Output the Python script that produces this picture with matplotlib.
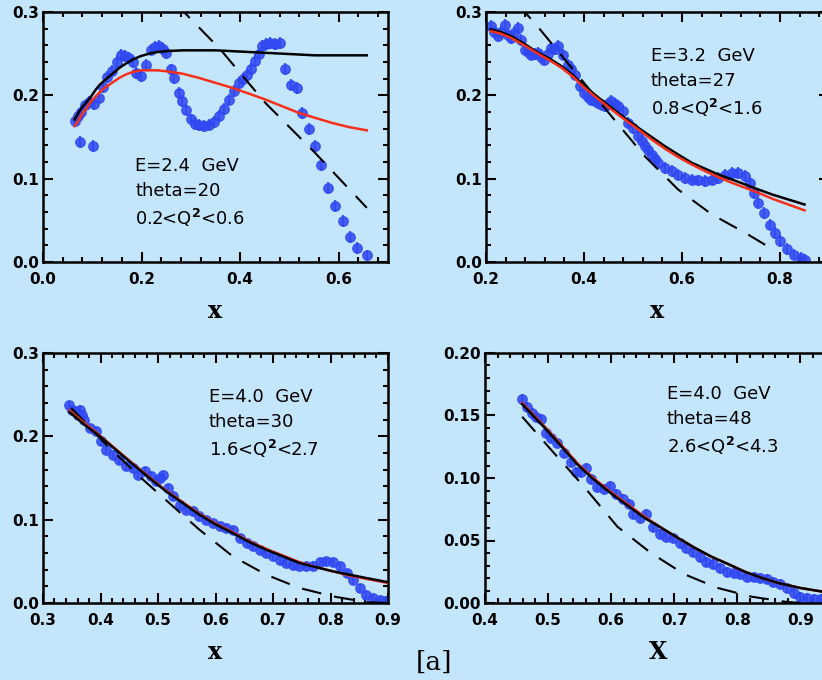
import matplotlib
matplotlib.use("Agg")
import matplotlib.pyplot as plt
from matplotlib.ticker import MultipleLocator, FormatStrFormatter

BG = "#C4E6FC"
BLUE = "#2F48F2"
RED = "#F5301A"

# ---------------- Panel 1: E=2.4 GeV, theta=20 ----------------
p1_x = [0.064, 0.076, 0.101, 0.070, 0.078, 0.086, 0.094, 0.104, 0.114, 0.122, 0.130, 0.141, 0.150,
        0.158, 0.166, 0.175, 0.182, 0.189, 0.199, 0.209, 0.219, 0.228, 0.236, 0.243, 0.249,
        0.259, 0.265, 0.276, 0.283, 0.290, 0.300, 0.308, 0.316, 0.326, 0.337, 0.347, 0.357,
        0.367, 0.377, 0.387, 0.397, 0.405, 0.414, 0.422, 0.431, 0.438, 0.444, 0.452, 0.461,
        0.471, 0.481, 0.490, 0.503, 0.515, 0.525, 0.539, 0.552, 0.564, 0.579, 0.593, 0.608,
        0.623, 0.638, 0.657]
p1_y = [0.169, 0.144, 0.139, 0.175, 0.180, 0.188, 0.192, 0.190, 0.197, 0.210, 0.222, 0.229, 0.240,
        0.249, 0.247, 0.245, 0.240, 0.227, 0.223, 0.237, 0.255, 0.258, 0.259, 0.256, 0.251,
        0.231, 0.221, 0.203, 0.193, 0.183, 0.171, 0.166, 0.164, 0.163, 0.165, 0.168, 0.175,
        0.184, 0.195, 0.205, 0.215, 0.220, 0.225, 0.232, 0.241, 0.250, 0.259, 0.262, 0.263,
        0.262, 0.263, 0.232, 0.213, 0.209, 0.179, 0.160, 0.139, 0.116, 0.089, 0.067, 0.049,
        0.030, 0.017, 0.008]
p1_err = 0.007
p1_cx = [0.064, 0.073, 0.081, 0.090, 0.098, 0.106, 0.114, 0.125, 0.135, 0.145, 0.155, 0.168, 0.182,
         0.198, 0.215, 0.232, 0.249, 0.283, 0.316, 0.350, 0.384, 0.418, 0.451, 0.485, 0.519, 0.552,
         0.586, 0.620, 0.657]
p1_black = [0.171, 0.180, 0.187, 0.193, 0.199, 0.206, 0.212, 0.218, 0.223, 0.228, 0.233, 0.238, 0.243,
            0.247, 0.250, 0.252, 0.253, 0.254, 0.254, 0.254, 0.253, 0.252, 0.251, 0.250, 0.249, 0.248,
            0.248, 0.248, 0.248]
p1_red = [0.163, 0.171, 0.179, 0.186, 0.193, 0.198, 0.203, 0.209, 0.213, 0.217, 0.221, 0.225, 0.228,
          0.230, 0.230, 0.230, 0.229, 0.226, 0.221, 0.215, 0.209, 0.202, 0.195, 0.187, 0.179, 0.173,
          0.167, 0.162, 0.158]
p1_dx = [0.270, 0.286, 0.360, 0.451, 0.552, 0.657]
p1_dash = [0.310, 0.300, 0.255, 0.191, 0.131, 0.065]

# ---------------- Panel 2: E=3.2 GeV, theta=27 ----------------
p2_x = [0.210, 0.217, 0.224, 0.231, 0.238, 0.245, 0.251, 0.258, 0.265, 0.272, 0.279, 0.286, 0.292,
        0.299, 0.306, 0.313, 0.319, 0.326, 0.333, 0.340, 0.347, 0.357, 0.367, 0.374, 0.381,
        0.391, 0.401, 0.408, 0.415, 0.422, 0.429, 0.436, 0.442, 0.449, 0.456, 0.463, 0.470,
        0.480, 0.490, 0.500, 0.511, 0.518, 0.524, 0.531, 0.538, 0.545, 0.552, 0.565, 0.579,
        0.592, 0.606, 0.620, 0.633, 0.647, 0.661, 0.674, 0.688, 0.702, 0.715, 0.729, 0.739,
        0.746, 0.756, 0.767, 0.780, 0.790, 0.801, 0.814, 0.828, 0.842, 0.852]
p2_y = [0.283, 0.276, 0.271, 0.276, 0.285, 0.272, 0.269, 0.275, 0.281, 0.266, 0.255, 0.252, 0.249,
        0.250, 0.251, 0.246, 0.243, 0.250, 0.257, 0.256, 0.259, 0.249, 0.237, 0.231, 0.225,
        0.211, 0.203, 0.198, 0.195, 0.193, 0.191, 0.189, 0.187, 0.190, 0.193, 0.190, 0.187,
        0.181, 0.167, 0.161, 0.151, 0.145, 0.139, 0.134, 0.129, 0.124, 0.119, 0.113, 0.109,
        0.105, 0.101, 0.099, 0.098, 0.097, 0.099, 0.101, 0.105, 0.107, 0.107, 0.103, 0.095,
        0.083, 0.071, 0.059, 0.045, 0.035, 0.025, 0.016, 0.009, 0.005, 0.003]
p2_err = 0.007
p2_cx = [0.210, 0.230, 0.251, 0.278, 0.306, 0.330, 0.354, 0.378, 0.401, 0.428, 0.456, 0.483, 0.511,
         0.538, 0.565, 0.592, 0.620, 0.647, 0.674, 0.702, 0.729, 0.756, 0.784, 0.817, 0.850]
p2_black = [0.279, 0.276, 0.271, 0.262, 0.251, 0.244, 0.235, 0.224, 0.211, 0.198, 0.185, 0.173, 0.161,
            0.150, 0.139, 0.129, 0.119, 0.112, 0.105, 0.099, 0.093, 0.087, 0.081, 0.075, 0.069]
p2_red = [0.277, 0.274, 0.269, 0.260, 0.250, 0.242, 0.233, 0.222, 0.209, 0.196, 0.183, 0.171, 0.159,
          0.147, 0.136, 0.126, 0.117, 0.109, 0.102, 0.095, 0.089, 0.083, 0.076, 0.069, 0.062]
p2_dx = [0.265, 0.279, 0.302, 0.470, 0.524, 0.592, 0.661, 0.729, 0.780]
p2_dash = [0.310, 0.300, 0.285, 0.165, 0.127, 0.087, 0.057, 0.035, 0.017]

# ---------------- Panel 3: E=4.0 GeV, theta=30 ----------------
p3_x = [0.346, 0.350, 0.355, 0.360, 0.364, 0.368, 0.372, 0.381, 0.393, 0.401, 0.410, 0.422, 0.433,
        0.445, 0.457, 0.465, 0.477, 0.488, 0.497, 0.503, 0.509, 0.517, 0.526, 0.538, 0.549,
        0.561, 0.572, 0.584, 0.596, 0.607, 0.619, 0.630, 0.642, 0.654, 0.665, 0.677, 0.688,
        0.700, 0.712, 0.723, 0.735, 0.746, 0.758, 0.770, 0.781, 0.793, 0.804, 0.816, 0.828,
        0.839, 0.851, 0.862, 0.874, 0.886, 0.897]
p3_y = [0.238, 0.232, 0.230, 0.226, 0.232, 0.226, 0.220, 0.210, 0.206, 0.194, 0.184, 0.178, 0.172,
        0.164, 0.162, 0.154, 0.158, 0.152, 0.146, 0.150, 0.154, 0.138, 0.128, 0.118, 0.112,
        0.110, 0.104, 0.100, 0.096, 0.092, 0.090, 0.088, 0.078, 0.072, 0.068, 0.064, 0.060,
        0.056, 0.052, 0.048, 0.046, 0.045, 0.044, 0.045, 0.049, 0.050, 0.049, 0.044, 0.036,
        0.028, 0.018, 0.010, 0.006, 0.004, 0.003]
p3_err = 0.005
p3_cx = [0.346, 0.372, 0.399, 0.428, 0.457, 0.485, 0.514, 0.543, 0.572, 0.601, 0.630, 0.659, 0.688,
         0.717, 0.746, 0.775, 0.804, 0.833, 0.862, 0.900]
p3_black = [0.229, 0.214, 0.200, 0.183, 0.166, 0.150, 0.134, 0.120, 0.106, 0.094, 0.084, 0.073, 0.064,
            0.056, 0.048, 0.043, 0.038, 0.034, 0.030, 0.025]
p3_red = [0.231, 0.216, 0.201, 0.184, 0.167, 0.151, 0.135, 0.121, 0.107, 0.095, 0.085, 0.074, 0.065,
          0.057, 0.049, 0.043, 0.038, 0.033, 0.029, 0.024]
p3_dx = [0.349, 0.410, 0.474, 0.526, 0.572, 0.630, 0.688, 0.746, 0.804, 0.862, 0.900]
p3_dash = [0.234, 0.190, 0.148, 0.116, 0.088, 0.056, 0.034, 0.018, 0.008, 0.001, 0.000]

# ---------------- Panel 4: E=4.0 GeV, theta=48 ----------------
p4_x = [0.459, 0.466, 0.474, 0.481, 0.489, 0.496, 0.504, 0.514, 0.525, 0.536, 0.544, 0.552, 0.560,
        0.568, 0.578, 0.589, 0.598, 0.607, 0.618, 0.629, 0.634, 0.645, 0.655, 0.666, 0.677,
        0.687, 0.698, 0.709, 0.719, 0.730, 0.740, 0.751, 0.762, 0.772, 0.783, 0.794, 0.804,
        0.815, 0.826, 0.836, 0.847, 0.857, 0.868, 0.879, 0.889, 0.900, 0.911, 0.921, 0.932]
p4_y = [0.163, 0.157, 0.152, 0.149, 0.147, 0.136, 0.132, 0.128, 0.120, 0.113, 0.105, 0.105, 0.108,
        0.099, 0.093, 0.091, 0.094, 0.087, 0.083, 0.079, 0.071, 0.068, 0.071, 0.061, 0.055,
        0.053, 0.052, 0.048, 0.044, 0.041, 0.037, 0.033, 0.031, 0.028, 0.025, 0.024, 0.023,
        0.021, 0.021, 0.020, 0.019, 0.017, 0.015, 0.012, 0.008, 0.005, 0.004, 0.003, 0.003]
p4_err = 0.004
p4_cx = [0.459, 0.476, 0.493, 0.520, 0.546, 0.572, 0.599, 0.626, 0.653, 0.680, 0.706, 0.733, 0.759,
         0.786, 0.812, 0.839, 0.865, 0.900, 0.936]
p4_black = [0.159, 0.150, 0.141, 0.126, 0.111, 0.099, 0.088, 0.078, 0.068, 0.060, 0.052, 0.044, 0.037,
            0.031, 0.025, 0.020, 0.016, 0.012, 0.009]
p4_red = [0.160, 0.151, 0.142, 0.127, 0.112, 0.100, 0.089, 0.079, 0.069, 0.060, 0.052, 0.044, 0.037,
          0.031, 0.025, 0.020, 0.016, 0.012, 0.009]
p4_dx = [0.459, 0.504, 0.557, 0.610, 0.663, 0.716, 0.769, 0.823, 0.876, 0.900]
p4_dash = [0.149, 0.123, 0.093, 0.061, 0.040, 0.023, 0.012, 0.005, 0.001, 0.000]

labels = [
    ["E=2.4  GeV", "theta=20", r"0.2<Q$^{\mathbf{2}}$<0.6"],
    ["E=3.2  GeV", "theta=27", r"0.8<Q$^{\mathbf{2}}$<1.6"],
    ["E=4.0  GeV", "theta=30", r"1.6<Q$^{\mathbf{2}}$<2.7"],
    ["E=4.0  GeV", "theta=48", r"2.6<Q$^{\mathbf{2}}$<4.3"],
]

fig = plt.figure(figsize=(8.22, 6.80), dpi=100)
fig.patch.set_facecolor(BG)

W, H = 822.0, 680.0
def pos(l, t, r, b):
    return [l / W, 1 - b / H, (r - l) / W, (b - t) / H]

axes_specs = [
    dict(rect=pos(43, 12, 388, 262), xlim=(0, 0.7), ylim=(0, 0.3), xmaj=0.2, xmin=0.04, ymaj=0.1, ymin=0.02,
         xfmt="%.1f", yfmt="%.1f", xlabel="x", data=(p1_x, p1_y, p1_err), cx=p1_cx, black=p1_black, red=p1_red,
         dx=p1_dx, dash=p1_dash, txt=labels[0], tpos=(0.267, 0.42), black_top=False),
    dict(rect=pos(486, 12, 829, 262), xlim=(0.2, 0.9), ylim=(0, 0.3), xmaj=0.2, xmin=0.04, ymaj=0.1, ymin=0.02,
         xfmt="%.1f", yfmt="%.1f", xlabel="x", data=(p2_x, p2_y, p2_err), cx=p2_cx, black=p2_black, red=p2_red,
         dx=p2_dx, dash=p2_dash, txt=labels[1], tpos=(0.481, 0.86), black_top=False),
    dict(rect=pos(43, 353, 388, 603), xlim=(0.3, 0.9), ylim=(0, 0.3), xmaj=0.1, xmin=0.02, ymaj=0.1, ymin=0.02,
         xfmt="%.1f", yfmt="%.1f", xlabel="x", data=(p3_x, p3_y, p3_err), cx=p3_cx, black=p3_black, red=p3_red,
         dx=p3_dx, dash=p3_dash, txt=labels[2], tpos=(0.481, 0.86), black_top=True),
    dict(rect=pos(485, 353, 832, 603), xlim=(0.4, 0.95), ylim=(0, 0.2), xmaj=0.1, xmin=0.02, ymaj=0.05, ymin=0.01,
         xfmt="%.1f", yfmt="%.2f", xlabel="X", data=(p4_x, p4_y, p4_err), cx=p4_cx, black=p4_black, red=p4_red,
         dx=p4_dx, dash=p4_dash, txt=labels[3], tpos=(0.524, 0.872), black_top=True),
]

for s in axes_specs:
    ax = fig.add_axes(s["rect"])
    ax.set_facecolor(BG)
    ax.set_xlim(*s["xlim"])
    ax.set_ylim(*s["ylim"])
    xs, ys, err = s["data"]
    ax.errorbar(xs, ys, yerr=err, fmt="o", ms=6.8, color=BLUE, mec=BLUE, ecolor=BLUE,
                elinewidth=1.6, capsize=0, alpha=0.85, zorder=2)
    ax.plot(s["dx"], s["dash"], color="black", lw=1.5, dashes=(9.5, 6.3), zorder=3)
    zb, zr = (5, 4) if s["black_top"] else (4, 5)
    ax.plot(s["cx"], s["black"], color="black", lw=1.8, zorder=zb)
    ax.plot(s["cx"], s["red"], color=RED, lw=1.8, zorder=zr)

    ax.xaxis.set_major_locator(MultipleLocator(s["xmaj"]))
    ax.xaxis.set_minor_locator(MultipleLocator(s["xmin"]))
    ax.yaxis.set_major_locator(MultipleLocator(s["ymaj"]))
    ax.yaxis.set_minor_locator(MultipleLocator(s["ymin"]))
    ax.xaxis.set_major_formatter(FormatStrFormatter(s["xfmt"]))
    ax.yaxis.set_major_formatter(FormatStrFormatter(s["yfmt"]))
    ax.tick_params(which="both", direction="in", top=True, right=True, width=1.5, color="black")
    ax.tick_params(which="major", length=7)
    ax.tick_params(which="minor", length=3.5)
    ax.tick_params(axis="x", which="major", pad=7)
    ax.tick_params(axis="y", which="major", pad=3)
    for lab in ax.get_xticklabels() + ax.get_yticklabels():
        lab.set_fontweight("bold")
        lab.set_fontsize(11)
        lab.set_family("DejaVu Sans")
    for sp in ax.spines.values():
        sp.set_linewidth(1.8)
    ax.set_xlabel(s["xlabel"], fontsize=17, fontweight="bold", family="DejaVu Serif", labelpad=9)

    tx, ty = s["tpos"]
    for i, line in enumerate(s["txt"]):
        ax.text(tx, ty - i * 0.1, line, transform=ax.transAxes, fontsize=13,
                family="DejaVu Sans", va="top", ha="left", color="black")

fig.text(434 / W, 1 - 662 / H, "[a]", fontsize=19, family="DejaVu Serif", ha="center", va="center")

fig.savefig("out.png", dpi=100, facecolor=BG)
